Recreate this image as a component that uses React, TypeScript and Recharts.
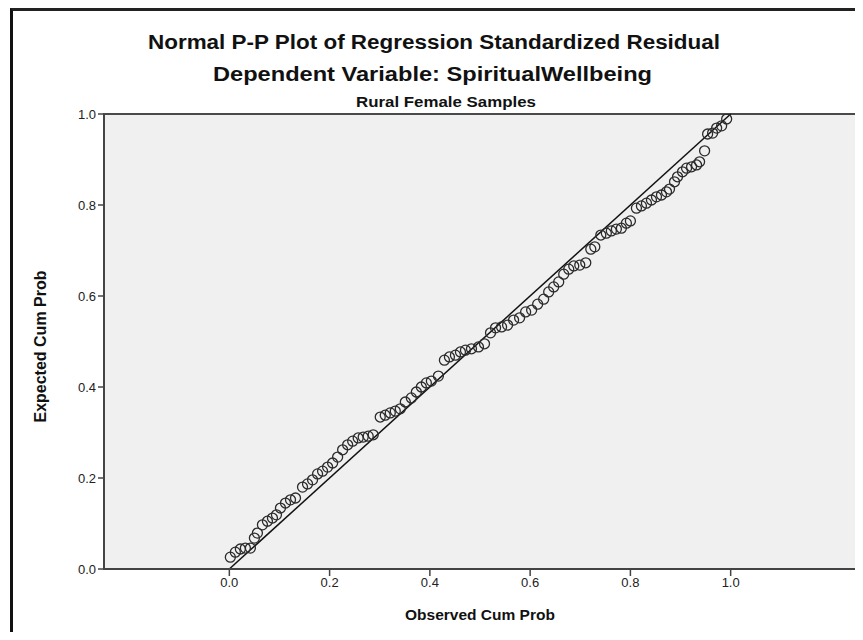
import React from 'react';
import { ScatterChart, Scatter, XAxis, YAxis, ReferenceLine, ReferenceArea } from 'recharts';

const observedCumProb = [
  0.002, 0.012, 0.022, 0.032, 0.042, 0.050, 0.056, 0.066, 0.076, 0.086,
  0.094, 0.102, 0.112, 0.122, 0.132, 0.146, 0.156, 0.166, 0.176, 0.186,
  0.196, 0.206, 0.216, 0.226, 0.236, 0.246, 0.257, 0.267, 0.277, 0.287,
  0.301, 0.311, 0.321, 0.331, 0.341, 0.351, 0.363, 0.373, 0.383, 0.393,
  0.403, 0.417, 0.429, 0.439, 0.451, 0.461, 0.471, 0.483, 0.497, 0.509,
  0.521, 0.531, 0.543, 0.555, 0.567, 0.579, 0.591, 0.603, 0.615, 0.627,
  0.637, 0.647, 0.657, 0.667, 0.677, 0.687, 0.699, 0.711, 0.721, 0.729,
  0.741, 0.752, 0.762, 0.772, 0.782, 0.792, 0.800, 0.812, 0.822, 0.832,
  0.842, 0.852, 0.862, 0.872, 0.878, 0.888, 0.894, 0.904, 0.912, 0.922,
  0.932, 0.938, 0.948, 0.954, 0.964, 0.972, 0.982, 0.992,
];

const expectedCumProb = [
  0.026, 0.037, 0.044, 0.046, 0.046, 0.068, 0.079, 0.097, 0.105, 0.112,
  0.119, 0.134, 0.145, 0.152, 0.156, 0.180, 0.187, 0.196, 0.209, 0.215,
  0.224, 0.233, 0.246, 0.262, 0.273, 0.281, 0.288, 0.290, 0.292, 0.295,
  0.334, 0.338, 0.343, 0.347, 0.352, 0.367, 0.376, 0.389, 0.400, 0.409,
  0.413, 0.424, 0.459, 0.466, 0.470, 0.477, 0.481, 0.484, 0.488, 0.495,
  0.519, 0.530, 0.532, 0.536, 0.547, 0.552, 0.565, 0.569, 0.582, 0.593,
  0.609, 0.620, 0.631, 0.648, 0.659, 0.666, 0.668, 0.673, 0.703, 0.708,
  0.734, 0.738, 0.743, 0.747, 0.749, 0.760, 0.765, 0.793, 0.798, 0.804,
  0.811, 0.818, 0.822, 0.829, 0.835, 0.851, 0.862, 0.873, 0.881, 0.884,
  0.888, 0.895, 0.919, 0.956, 0.958, 0.969, 0.974, 0.989,
];

const axisTicks = [0, 0.2, 0.4, 0.6, 0.8, 1.0];

const titleLines = [
  'Normal P-P Plot of Regression Standardized Residual',
  'Dependent Variable: SpiritualWellbeing',
];
const subTitle = 'Rural Female Samples';
const xLabel = 'Observed Cum Prob';
const yLabel = 'Expected Cum Prob';

const points = observedCumProb.map((x, i) => ({ x, y: expectedCumProb[i] }));

const FONT = "'Liberation Sans', Arial, sans-serif";

const Ring = (props: any) => {
  const { cx, cy } = props;
  if (cx == null || cy == null) return null;
  return <circle cx={cx} cy={cy} r={5} fill="none" stroke="#2b2b2b" strokeWidth={1.3} />;
};

export default function App() {
  return (
    <div style={{ position: 'relative', width: 855, height: 624, fontFamily: FONT }}>
      <div
        style={{
          position: 'absolute',
          left: 2,
          top: 0,
          width: 853,
          height: 624,
          borderLeft: '3px solid #111',
          borderTop: '3px solid #222',
          boxSizing: 'border-box',
        }}
      />
      <svg
        width={855}
        height={110}
        style={{ position: 'absolute', left: 0, top: 0 }}
        fontFamily={FONT}
        fontWeight="bold"
        fill="#111"
      >
        <text x={426} y={41} textAnchor="middle" fontSize={20} textLength={572} lengthAdjust="spacingAndGlyphs">
          {titleLines[0]}
        </text>
        <text x={424.5} y={73} textAnchor="middle" fontSize={20} textLength={439} lengthAdjust="spacingAndGlyphs">
          {titleLines[1]}
        </text>
        <text x={438} y={99} textAnchor="middle" fontSize={15} textLength={180} lengthAdjust="spacingAndGlyphs">
          {subTitle}
        </text>
      </svg>
      <div style={{ position: 'absolute', left: 0, top: 0 }}>
        <ScatterChart width={855} height={624} margin={{ top: 106, right: 7, bottom: 0, left: 0 }}>
          <ReferenceArea
            x1={-0.25}
            x2={1.25}
            y1={0}
            y2={1}
            fill="#f0f0f0"
            fillOpacity={1}
            stroke="#4a4a4a"
            strokeWidth={2}
            ifOverflow="visible"
          />
          <XAxis
            type="number"
            dataKey="x"
            domain={[-0.25, 1.25]}
            ticks={axisTicks}
            allowDataOverflow
            tickFormatter={(v: number) => v.toFixed(1)}
            tickSize={7}
            height={63}
            axisLine={{ stroke: '#444', strokeWidth: 2 }}
            tickLine={{ stroke: '#444', strokeWidth: 1.5 }}
            tick={{ fill: '#222', fontSize: 13, fontFamily: FONT }}
            label={{
              value: xLabel,
              position: 'insideBottom',
              offset: 12,
              style: { fontSize: 15.5, fontWeight: 'bold', fill: '#111', fontFamily: FONT },
            }}
          />
          <YAxis
            type="number"
            dataKey="y"
            domain={[0, 1]}
            ticks={axisTicks}
            allowDataOverflow
            tickFormatter={(v: number) => v.toFixed(1)}
            tickSize={6}
            width={96}
            axisLine={{ stroke: '#444', strokeWidth: 2 }}
            tickLine={{ stroke: '#444', strokeWidth: 1.5 }}
            tick={{ fill: '#222', fontSize: 13, fontFamily: FONT }}
            label={{
              value: yLabel,
              angle: -90,
              position: 'center',
              dx: -16,
              dy: 5,
              style: { fontSize: 16, fontWeight: 'bold', fill: '#111', fontFamily: FONT },
            }}
          />
          <ReferenceLine
            segment={[
              { x: 0, y: 0 },
              { x: 1, y: 1 },
            ]}
            stroke="#111"
            strokeWidth={1.5}
          />
          <Scatter data={points} shape={Ring} isAnimationActive={false} />
        </ScatterChart>
      </div>
    </div>
  );
}
